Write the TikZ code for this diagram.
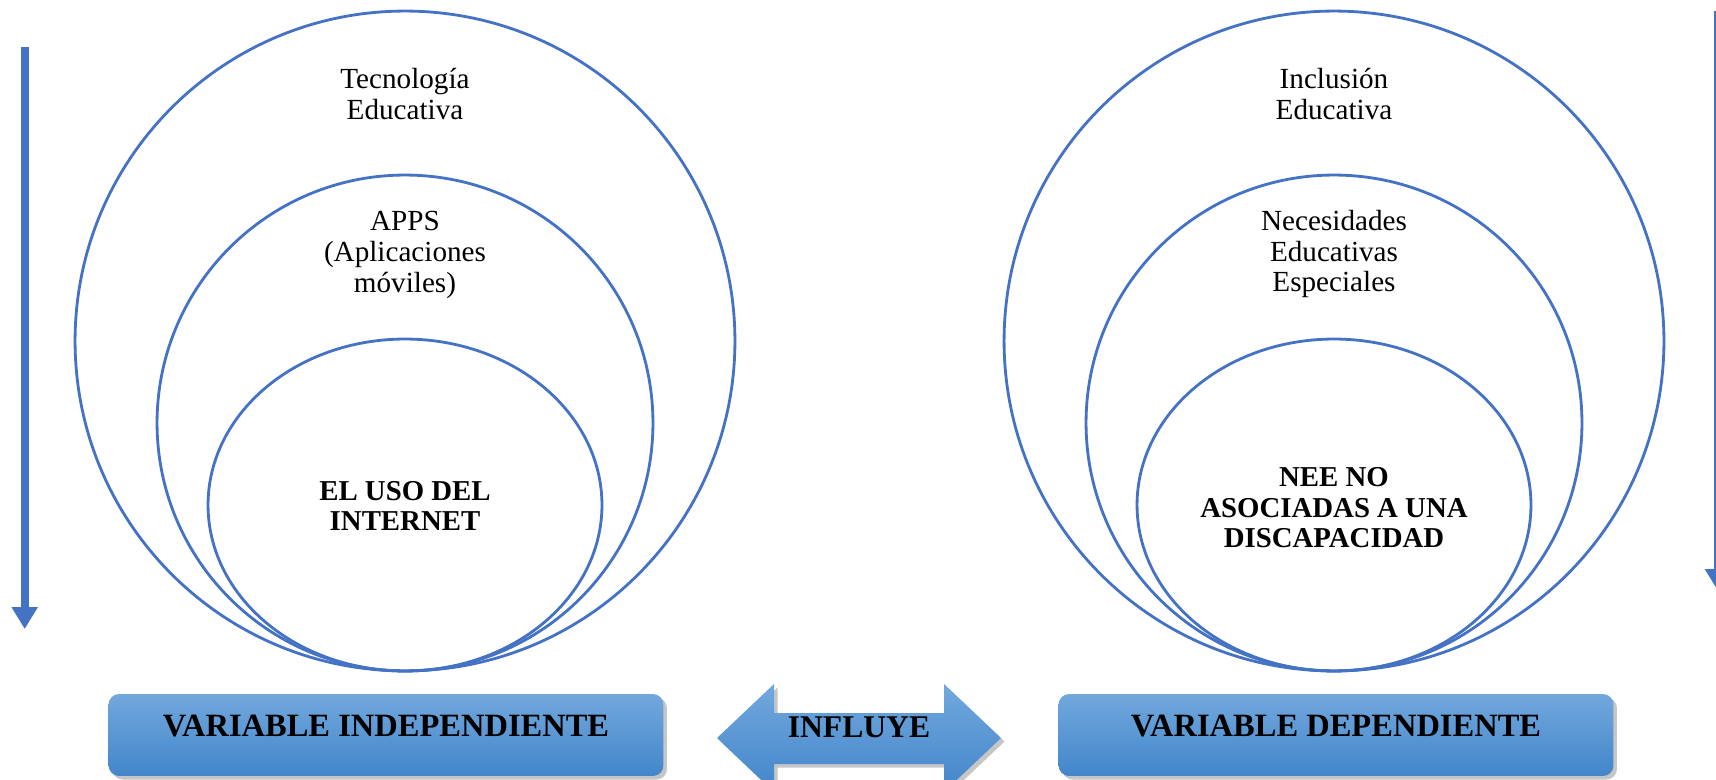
\documentclass[tikz,border=0pt]{standalone}
\usepackage{fontspec}
\setmainfont{Liberation Serif}
\usetikzlibrary{shapes.geometric,shadows,arrows.meta}
\definecolor{ringblue}{HTML}{4472C4}
\definecolor{boxtop}{HTML}{72A8DD}
\definecolor{boxbottom}{HTML}{4286CA}
\begin{document}
\begin{tikzpicture}
[x=0.02cm, y=-0.02cm,
  ringdecorate/.style={shape=ellipse,draw=ringblue,line width=1.6pt,inner sep=0pt},
  labeldecorate/.style={align=center,font=\fontsize{16.6}{17.6}\selectfont},
  boldlabel/.style={labeldecorate,font=\fontsize{16.4}{17.4}\selectfont\bfseries},
  boxdecorate/.style={rounded corners=6pt,top color=boxtop,bottom color=boxbottom,
    drop shadow={shadow xshift=2pt,shadow yshift=-2pt,opacity=0.45},
    minimum width=11.1cm,minimum height=1.64cm,text depth=0.36cm,
    font=\fontsize{18.5}{20}\selectfont\bfseries},
  flowdecorate/.style={draw=ringblue,line width=4.5pt,-{Triangle[width=0.5cm,length=0.44cm]}}]
\useasboundingbox (0,0) rectangle (1716,780);
%% side arrows
\coordinate (ltop) at (24.7,47);
\coordinate (lend) at (24.7,629);
\coordinate (rtop) at (1718,11);
\coordinate (rend) at (1718,591);
\draw[flowdecorate] (ltop) -- (lend);
\draw[flowdecorate] (rtop) -- (rend);
%% rings
\foreach \nodename/\x/\y/\w/\h in {lo/405/341/13.2/13.2, lm/405/423/9.92/9.92,
  li/405/505/7.88/6.64, ro/1334/341/13.2/13.2, rm/1334/423/9.92/9.92,
  ri/1334/505/7.88/6.64}
{
  \node (\nodename) at (\x,\y) [ringdecorate,minimum width=\w cm,minimum height=\h cm] {};
}
%% ring texts
\node (tec) at (405,94) [labeldecorate] {Tecnología\\Educativa};
\node (apps) at (405,255) [labeldecorate] {APPS\\(Aplicaciones\\móviles)};
\node (uso) at (405,506) [boldlabel] {EL USO DEL\\INTERNET};
\node (inc) at (1334,94) [labeldecorate] {Inclusión\\Educativa};
\node (nee) at (1334,254) [labeldecorate] {Necesidades\\Educativas\\Especiales};
\node (nonee) at (1334,508) [boldlabel] {NEE NO\\ASOCIADAS A UNA\\DISCAPACIDAD};
%% bottom row
\node (indep) at (386,735) [boxdecorate] {VARIABLE INDEPENDIENTE};
\node (dep) at (1336,735) [boxdecorate] {VARIABLE DEPENDIENTE};
\path[top color=boxtop,bottom color=boxbottom,
  drop shadow={shadow xshift=2pt,shadow yshift=-2pt,opacity=0.45}]
  (717,738) -- (774,684) -- (774,713) -- (944,713) -- (944,684) -- (1001,738)
  -- (944,792) -- (944,764) -- (774,764) -- (774,792) -- cycle;
\node (influye) at (859,727) [font=\fontsize{18}{20}\selectfont\bfseries] {INFLUYE};
\end{tikzpicture}
\end{document}
